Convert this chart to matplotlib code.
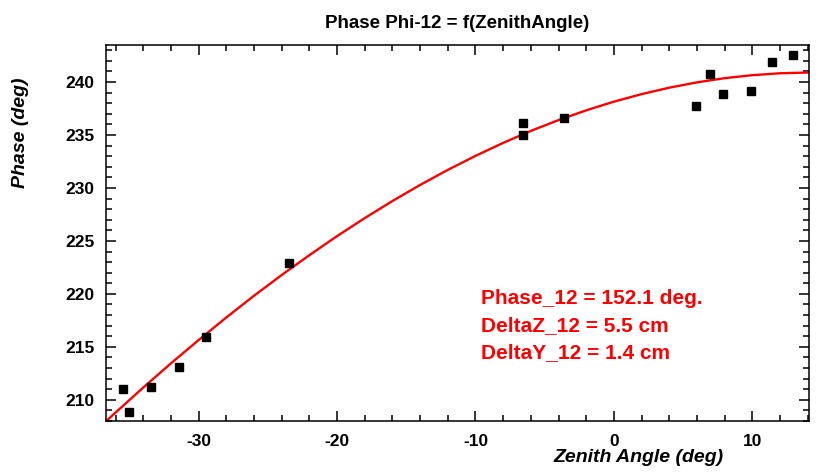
import matplotlib
matplotlib.use("Agg")
import matplotlib.pyplot as plt
from matplotlib.ticker import MultipleLocator

# measured points
zenith = [-35.48, -35.07, -33.48, -31.46, -29.48, -23.46, -6.60, -6.60, -3.61,
          5.90, 6.91, 7.90, 9.92, 11.44, 12.93]
phase = [210.98, 208.84, 211.17, 213.08, 215.89, 222.96, 236.17, 235.04, 236.60,
         237.74, 240.75, 238.91, 239.19, 241.89, 242.58]

# fit curve
fit_x = [-36.7, -34, -32, -30, -28, -26, -24, -22, -20, -18, -16, -14, -12, -10,
         -8, -6, -4, -2, 0, 2, 4, 6, 8, 10, 12, 14]
fit_y = [207.98, 211.17, 213.45, 215.65, 217.78, 219.83, 221.79, 223.66, 225.46,
         227.16, 228.77, 230.29, 231.71, 233.03, 234.26, 235.39, 236.41, 237.33,
         238.15, 238.86, 239.47, 239.97, 240.37, 240.65, 240.83, 240.90]

fit_text = ["Phase_12 = 152.1 deg.", "DeltaZ_12 = 5.5 cm", "DeltaY_12 = 1.4 cm"]

plt.rcParams['font.family'] = ['Liberation Sans', 'DejaVu Sans']
plt.rcParams['axes.unicode_minus'] = False

fig = plt.figure(figsize=(8.31, 4.76), dpi=100)
ax = fig.add_axes([106/831, 1-421/476, 703/831, 376/476])

ax.plot(fit_x, fit_y, color='#ff0000', lw=1.7, zorder=2)
ax.plot(zenith, phase, 's', color='black', ms=5.8, zorder=3)

ax.set_xlim(-36.7, 14.1)
ax.set_ylim(208.0, 243.5)
ax.xaxis.set_major_locator(MultipleLocator(10))
ax.xaxis.set_minor_locator(MultipleLocator(2))
ax.yaxis.set_major_locator(MultipleLocator(5))
ax.yaxis.set_minor_locator(MultipleLocator(1))
ax.tick_params(which='both', direction='in', top=True, right=True, width=1.1)
ax.tick_params(which='major', length=7, labelsize=12.5)
ax.tick_params(axis='y', which='major', pad=8.5)
ax.tick_params(axis='x', which='major', pad=9)
ax.tick_params(which='minor', length=4)
for lab in ax.get_xticklabels() + ax.get_yticklabels():
    lab.set_fontweight('bold')
for s in ax.spines.values():
    s.set_linewidth(1.1)

ax.set_title("Phase Phi-12 = f(ZenithAngle)", fontsize=13.5, fontweight='bold', pad=12)
ax.set_xlabel("Zenith Angle (deg)", fontsize=14, fontweight='bold', style='italic')
ax.xaxis.set_label_coords(0.758, -0.074)
ax.set_ylabel("Phase (deg)", fontsize=14, fontweight='bold', style='italic')
ax.yaxis.set_label_coords(-0.110, 0.766)

for i, (t, yy) in enumerate(zip(fit_text, [0.327, 0.254, 0.183])):
    ax.text(0.533, yy, t, transform=ax.transAxes, color='#ff0000', fontsize=15,
            fontweight='bold', va='center', ha='left')

fig.savefig("out.png", dpi=100)
